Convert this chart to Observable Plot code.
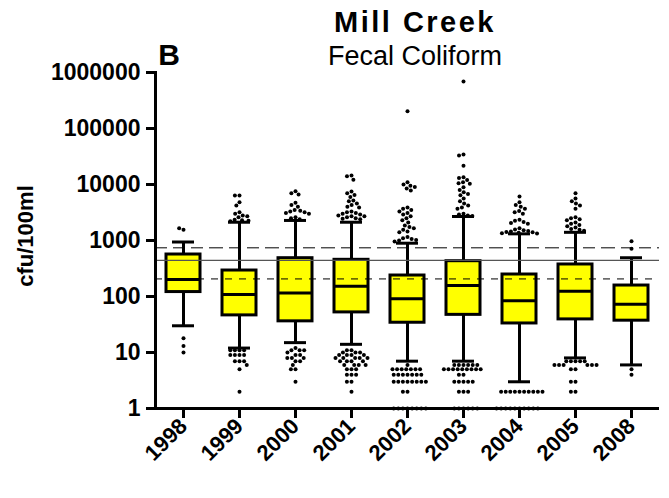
<!DOCTYPE html>
<html><head><meta charset="utf-8">
<script src="https://cdn.jsdelivr.net/npm/d3@7"></script>
<script src="https://cdn.jsdelivr.net/npm/@observablehq/plot@0.6"></script>
<style>
body{margin:0;background:#fff;}
</style>
</head><body><div id="chart"></div><script>
const years = ["1998","1999","2000","2001","2002","2003","2004","2005","2008"];
const whiskerLow  = [30, 12, 15, 14, 7, 7, 3, 8, 6];
const q1          = [120, 46, 36, 52, 34, 47, 33, 39, 37];
const median      = [201, 109, 115, 153, 91, 157, 84, 124, 73];
const q3          = [562, 291, 483, 452, 237, 427, 247, 373, 157];
const whiskerHigh = [940, 2120, 2280, 2120, 895, 2680, 1315, 1400, 492];
const yTicks = [1, 10, 100, 1000, 10000, 100000, 1000000];
const refUpper = [740];
const refMean = [440];
const refLower = [206];

const out1998 = [1550, 1650, 18, 13, 10];
const out1999 = [6340, 6340, 4820, 4200, 3200, 3000, 2800, 2700, 2600, 2350, 2300, 2250, 2200,
  11, 11, 11, 11, 9, 9, 9, 9, 7, 7, 7, 6, 5, 2];
const out2000 = [7600, 7000, 6600, 4700, 4300, 4000, 3500, 3400, 3300, 3200, 3100, 3000, 2600, 2500, 2400,
  12, 11, 11, 11, 10, 9, 9, 8, 8, 8, 7, 7, 6, 5, 5, 3];
const out2001 = [14500, 14000, 12200, 7500, 7000, 6500, 6000, 5200, 5000, 4600, 4300, 4000, 3900, 3300, 3200, 3100,
  3000, 2900, 2800, 2700, 2700, 2600, 2500, 2450, 2400,
  11, 11, 10, 10, 10, 9, 9, 9, 9, 8, 8, 8, 8, 8, 7, 7, 7, 7, 6, 6, 6, 6, 5, 5, 5, 4, 4, 4, 3, 3, 2];
const out2002 = [204000, 11000, 10000, 9500, 9000, 8500, 7800, 3900, 3700, 3500, 3300, 3100, 2900, 2700, 2500, 2300, 2100,
  1850, 1750, 1650, 1550, 1450, 1400, 1150, 1100, 1060, 1020, 1000, 960,
  6, 5, 5, 5, 5, 5, 5, 5, 4, 4, 4, 4, 4, 4, 4, 3, 3, 3, 3, 3, 3, 3, 3, 2, 2, 1, 1, 1, 1, 1, 1, 1, 1];
const out2003 = [690000, 34500, 33000, 21700, 13500, 13000, 12000, 11000, 10500, 10300, 8900, 8000, 7300, 6800, 6400,
  5600, 5000, 4600, 4200, 3900, 3700, 3000, 2900, 2800, 2750,
  6, 6, 6, 6, 6, 6, 5, 5, 5, 5, 5, 5, 5, 5, 5, 4, 4, 3, 3, 3, 3, 3, 2, 2, 2, 1, 1, 1, 1, 1, 1];
const out2004 = [6100, 4800, 4300, 4000, 3700, 3350, 3200, 3000, 2340, 2250, 2150, 2050, 2000,
  1650, 1580, 1520, 1480, 1450, 1420, 1400, 1370, 1350, 1330,
  2, 2, 2, 2, 2, 2, 2, 2, 2, 2, 1, 1, 1, 1, 1, 1, 1, 1, 1, 1];
const out2005 = [7000, 5600, 5000, 4600, 4200, 3700, 2600, 2500, 2400, 2300, 2100, 2000, 1900, 1800, 1700,
  1600, 1550, 1500, 7, 7, 7, 7, 7, 6, 6, 6, 6, 6, 6, 5, 5, 3, 3, 2, 2];
const out2008 = [972, 710, 5, 4];

const outlierLists = [out1998, out1999, out2000, out2001, out2002, out2003, out2004, out2005, out2008];
const rows = years.map((year, i) => ({year, lo: whiskerLow[i], q1: q1[i], median: median[i], q3: q3[i], hi: whiskerHigh[i]}));
const outliers = years.flatMap((year, i) => outlierLists[i].map(value => ({year, value})));

const ff = "'Liberation Sans', Arial, sans-serif";
const plot = Plot.plot({
  width: 669, height: 498,
  marginTop: 72, marginBottom: 90, marginLeft: 155, marginRight: 10,
  style: {fontFamily: ff, fontSize: "22px", fontWeight: "bold", color: "black", background: "white", overflow: "visible"},
  fx: {domain: years, padding: 0, label: null},
  y: {type: "log", domain: [1, 1e6], label: null},
  marks: [
    Plot.ruleX(rows, {fx: "year", x: null, y1: "lo", y2: "q1", strokeWidth: 3}),
    Plot.ruleX(rows, {fx: "year", x: null, y1: "q3", y2: "hi", strokeWidth: 3}),
    Plot.barY(rows, {fx: "year", y1: "q1", y2: "q3", fill: "#ffff00", stroke: "black", strokeWidth: 3, insetLeft: 11, insetRight: 11}),
    Plot.ruleY(rows, {fx: "year", y: "median", strokeWidth: 3, insetLeft: 11, insetRight: 11}),
    Plot.ruleY(rows, {fx: "year", y: "lo", strokeWidth: 3, insetLeft: 17, insetRight: 17}),
    Plot.ruleY(rows, {fx: "year", y: "hi", strokeWidth: 3, insetLeft: 17, insetRight: 17}),
    Plot.dot(outliers, Plot.dodgeX({anchor: "middle", padding: 0.6}, {fx: "year", y: "value", r: 2, fill: "black", stroke: "none"})),
    Plot.ruleY(refUpper, {stroke: "black", strokeWidth: 1, strokeDasharray: "12,6"}),
    Plot.ruleY(refMean, {stroke: "#555", strokeWidth: 1.2}),
    Plot.ruleY(refLower, {stroke: "black", strokeWidth: 1, strokeDasharray: "7,7"}),
    Plot.ruleY([1], {strokeWidth: 3}),
    Plot.frame({anchor: "left", facetAnchor: "left", strokeWidth: 3}),
    Plot.axisY({ticks: yTicks, tickFormat: d => String(d), tickSize: 9, tickPadding: 6, strokeWidth: 3, fontSize: 23, label: null}),
    Plot.axisFx({anchor: "bottom", tickSize: 10, tickRotate: -45, tickPadding: 4, strokeWidth: 3, fontSize: 22, label: null})
  ]
});
document.getElementById("chart").appendChild(plot);
const svgEl = plot.tagName.toLowerCase() === "svg" ? plot : plot.querySelector("svg");
const svg = d3.select(svgEl);
svg.append("text").attr("x", 415).attr("y", 32).attr("text-anchor", "middle")
  .style("font", `bold 29px ${ff}`).style("letter-spacing", "2.5px").attr("fill", "black").text("Mill Creek");
svg.append("text").attr("x", 415).attr("y", 65).attr("text-anchor", "middle")
  .style("font", `normal 27px ${ff}`).attr("fill", "black").text("Fecal Coliform");
svg.append("text").attr("x", 169).attr("y", 65)
  .style("font", `bold 30px ${ff}`).attr("fill", "black").text("B");
svg.append("text").attr("transform", "translate(33,236) rotate(-90)").attr("text-anchor", "middle")
  .style("font", `bold 22px ${ff}`).attr("fill", "black").text("cfu/100ml");
</script></body></html>
